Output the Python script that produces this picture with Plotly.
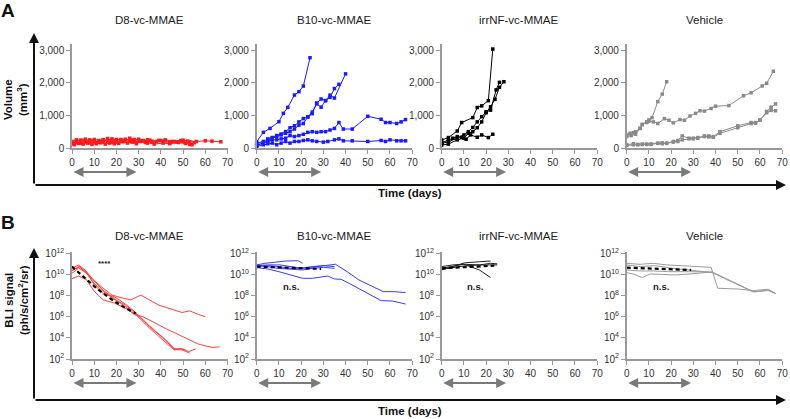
import plotly.graph_objects as go

W, H = 790, 419
FONT = "Liberation Sans, Arial, sans-serif"

groups = ["D8-vc-MMAE", "B10-vc-MMAE", "irrNF-vc-MMAE", "Vehicle"]
colors_a = ["#ff1a1a", "#1a1aff", "#000000", "#8a8a8a"]
colors_b = ["#ff4040", "#3a3aff", "#222222", "#9a9a9a"]
treatment_days = [0, 29]

# ---------------- Panel A: tumour volume (mm^3) ----------------
vol_d8 = [
    ([0,2,4,6,8,10,12,14,16,18,20,22,24,26,28,30,32,35,38,42,45,49,52,56,60,63,67],
     [130,210,240,200,250,190,220,240,210,200,260,240,230,210,260,230,220,240,200,220,200,230,210,200,220,210,190]),
    ([0,2,4,6,8,10,12,14,16,18,20,22,24,26,28,30,33,36,40,44,47,50,53,55],
     [160,180,150,220,160,200,170,180,290,230,180,200,270,250,190,210,170,200,230,160,180,200,110,160]),
    ([1,3,5,7,9,11,13,15,17,19,21,23,25,27,29,31,34,37,41,44,48,51,54],
     [100,140,120,150,110,130,160,120,150,130,140,190,150,180,130,200,150,120,150,130,170,140,100]),
    ([0,2,4,6,8,10,12,14,16,18,20,22,24,26,28,30,32,34,36,39,42,46,50,53],
     [200,250,230,270,220,260,230,250,220,280,240,260,220,300,250,270,230,250,200,230,250,200,240,190]),
]
vol_b10 = [
    ([0,3,6,10,12,14,17,19,21,24],
     [194,480,600,806,1061,1244,1622,1724,1897,2764]),
    ([0,3,5,7,9,11,13,15,17,19,21,23,25,27,29,31,33,35,37],
     [150,200,280,320,380,430,500,620,680,800,900,950,1100,1350,1250,1450,1550,1820,1950]),
    ([0,3,5,7,9,11,13,15,17,19,21,23,25,27,29,31,33,35,40],
     [100,150,220,300,350,400,450,500,580,700,750,950,1050,1380,1500,1450,1620,1530,2270]),
    ([0,3,5,7,9,11,13,15,17,19,21,23,25,27,29,31,33,35,37,39,43,50,56,58,60,63,65,67],
     [80,150,200,250,250,280,300,380,350,380,420,480,500,480,500,500,550,600,780,580,580,970,880,780,780,750,800,870]),
    ([0,3,5,7,9,11,13,15,17,19,21,23,25,27,30,32,35,37,39,43,50,56,58,60,63,65,67],
     [50,100,130,150,100,150,200,150,200,200,230,250,220,200,180,200,250,280,220,220,200,230,200,250,220,220,220]),
]
vol_irr = [
    ([0,3,7,9,14,16,18,21,23],
     [245,320,520,780,930,1240,1290,1450,3030]),
    ([0,3,7,10,12,14,16,18,20,22,24.5,26],
     [140,190,300,400,500,630,800,960,1110,1160,1780,2010]),
    ([0,3,7,10,12,14,16,18,20,22,24,26,28],
     [90,120,250,300,450,500,620,800,1080,1260,1490,1860,2030]),
    ([0,3,5,7,9,11,13,16,18,21,23],
     [160,240,300,350,330,270,400,330,400,320,420]),
]
vol_veh = [
    ([0,1.5,3,4,6,7,9,10,11.4,14,16,18],
     [400,450,470,500,600,720,800,860,930,1420,1650,2030]),
    ([0,2,4,6,7,9,10,12,14,17,19,21,24,26,28.5,31,33,35,38,40,46,52.6,56,61,63,66],
     [350,380,420,600,720,780,820,800,750,900,850,770,870,850,980,1060,1140,1130,1210,1280,1300,1600,1690,1900,1980,2350]),
    ([0,3,5,7,9,11,14,16,18,21,23,25,28,30,32,35,37,39,42,50,56,58,60,63,65,67],
     [100,130,110,120,120,120,150,160,150,200,230,370,300,300,320,370,370,350,500,680,780,780,850,1120,1250,1350]),
    ([0,3,5,7,9,11,14,16,18,21,23,25,28,30,32,35,37,39,42,50,56,58,60,63,65,67],
     [80,100,100,110,110,110,140,130,140,180,200,250,280,280,300,350,340,330,450,620,750,760,860,1080,1150,1140]),
]
volumes = [vol_d8, vol_b10, vol_irr, vol_veh]
vol_ticks = [0, 1000, 2000, 3000]
vol_ticktext = ["0", "1,000", "2,000", "3,000"]

# ---------------- Panel B: BLI signal (log10 ph/s/cm2/sr) ----------------
bli_d8 = [
    ([0,3,6,9.5,14,18,23,26.5,31,39,49.5,53,57,60],
     [10.6,10.9,10.4,9.5,8.7,8.05,7.75,7.6,8.05,7.1,6.4,6.55,6.2,6.0]),
    ([0,3,6,9.5,14,19,24,28,32,42,57,63,66.5],
     [10.1,10.6,10.2,9.5,8.5,7.75,6.95,6.2,6.0,4.9,3.4,3.1,3.15]),
    ([0,3,6.5,10,14,19,24,28.7,35,42,46,49,52.5,55.7],
     [9.6,9.85,9.5,8.4,7.6,7.3,6.8,6.2,4.9,3.65,2.85,3.0,2.7,2.95]),
    ([0,3,6,10,14,19,24,28.7,35,42,46,49.7,53],
     [10.4,10.75,10.25,9.15,8.4,7.65,7.1,6.3,5.05,3.8,2.9,2.85,2.55]),
    ([0,3.5,7,10,14,19,24,28.7,35,42,46,51],
     [10.35,10.74,10.1,9.0,8.2,7.9,7.2,6.4,5.1,3.85,3.0,2.9]),
]
bli_d8_mean = ([0,5,11,17,23,28.7], [10.74,9.8,8.7,7.75,6.95,6.3])
bli_b10 = [
    ([0,3.7,8,13,18.5,20.7], [10.9,11.05,11.15,11.27,11.3,11.05]),
    ([0,5,10.4,14.8,20,25,30,35], [10.83,10.9,10.9,10.74,10.6,10.74,10.83,10.74]),
    ([0,5,10,15.5,20.7,25,30,35.5,40.7,46,57,62,67],
     [10.74,10.83,10.74,10.58,10.58,10.67,10.8,10.96,10.26,9.48,8.37,8.37,8.28]),
    ([0,5,10,15.5,20.7,25,28,32,35,38,43,56,61,67],
     [10.64,10.52,10.26,9.95,9.63,9.63,9.73,9.85,9.57,9.54,9.0,7.52,7.49,7.2]),
    ([0,5,9.6,15.5,20.7,25,30,35], [10.9,10.74,10.58,10.49,10.42,10.58,10.67,10.58]),
]
bli_b10_mean = ([0,10,20,29], [10.74,10.68,10.6,10.52])
bli_irr = [
    ([0,5,10.4,17,22], [10.42,10.74,11.1,11.2,11.27]),
    ([0,5,10,17,22,25], [10.58,10.8,10.96,10.9,11.05,11.0]),
    ([0,5,10,17,22], [10.74,10.9,10.96,10.42,9.7]),
    ([0,5,10,17,23,25], [10.49,10.64,10.8,10.9,10.9,10.9]),
]
bli_irr_mean = ([0,8,16,23.7], [10.58,10.68,10.77,10.83])
bli_veh = [
    ([0,6,12,18,27,32.6,38,41,50,57,63.7,67],
     [11.05,10.96,11.05,10.9,10.8,10.74,10.67,8.69,8.62,8.47,8.6,8.2]),
    ([0,6,13,20.7,28,38.5,47,57,63.7,67],
     [10.9,10.74,10.83,10.58,10.42,10.17,9.32,8.34,8.47,8.2]),
    ([0,3.7,7,10.4,16,22,28,34,38.5,47,57,63.7,67],
     [10.17,10.0,9.7,10.04,10.0,9.95,10.04,10.17,10.23,9.38,8.37,8.53,8.2]),
    ([0,6,12,19,28,38.5], [10.42,10.33,10.33,10.26,10.26,10.23]),
]
bli_veh_mean = ([0,10,20,29], [10.64,10.58,10.5,10.42])
bli = [bli_d8, bli_b10, bli_irr, bli_veh]
bli_means = [bli_d8_mean, bli_b10_mean, bli_irr_mean, bli_veh_mean]
bli_exponents = [2, 4, 6, 8, 10, 12]
stats_labels = ["****", "n.s.", "n.s.", "n.s."]
stats_pos = [(14.7, 11.05), (15.3, 8.85), (14.8, 8.9), (15.6, 8.9)]

# ---------------- layout geometry (pixels) ----------------
x_left = [72, 256.7, 441.7, 626.7]
x_len = 155.5
rowA = (148, 43.5)     # bottom, top pixel
rowB = (359, 251.7)

def px(x):
    return x / W

def py(y):
    return 1 - y / H

fig = go.Figure()
layout = dict(
    width=W, height=H, margin=dict(l=0, r=0, t=0, b=0, pad=0), autosize=False,
    paper_bgcolor="white", plot_bgcolor="white", showlegend=False,
    font=dict(family=FONT, size=10, color="#333"),
)

def axis_common():
    return dict(showline=True, linecolor="#999", linewidth=1.5, ticks="outside",
                ticklen=4, tickwidth=1.2, tickcolor="#999", showgrid=False,
                zeroline=False, tickfont=dict(family=FONT, size=10, color="#333"),
                fixedrange=True, automargin=False)

def label(text, x, y, size=11.5, color="#111", angle=0, xref="paper", yref="paper"):
    return dict(text=text, x=x, y=y, xref=xref, yref=yref, showarrow=False,
                xanchor="center", yanchor="middle", textangle=angle,
                font=dict(size=size, color=color, family=FONT))

annotations = []
for i in range(4):
    # Panel A
    n = i + 1
    xa = f"x{n}" if n > 1 else "x"
    ya = f"y{n}" if n > 1 else "y"
    for days, vals in volumes[i]:
        fig.add_trace(go.Scatter(x=days, y=vals, mode="lines+markers", xaxis=xa, yaxis=ya,
                                 line=dict(color=colors_a[i], width=1),
                                 marker=dict(symbol="square", size=3.5, color=colors_a[i]),
                                 cliponaxis=False))
    xd = [px(x_left[i]), px(x_left[i] + x_len)]
    layout[f"xaxis{n}" if n > 1 else "xaxis"] = dict(
        axis_common(), domain=xd, anchor=ya, range=[0, 70], tickvals=list(range(0, 80, 10)))
    layout[f"yaxis{n}" if n > 1 else "yaxis"] = dict(
        axis_common(), domain=[py(rowA[0]), py(rowA[1])], anchor=xa, range=[0, 3200],
        tickvals=vol_ticks, ticktext=vol_ticktext)

    # Panel B
    m = i + 5
    xb, yb = f"x{m}", f"y{m}"
    for days, vals in bli[i]:
        fig.add_trace(go.Scatter(x=days, y=[10 ** v for v in vals], mode="lines", xaxis=xb, yaxis=yb,
                                 line=dict(color=colors_b[i], width=1), cliponaxis=False))
    md, mv = bli_means[i]
    fig.add_trace(go.Scatter(x=md, y=[10 ** v for v in mv], mode="lines", xaxis=xb, yaxis=yb,
                             line=dict(color="black", width=2.2, dash="4px,3px"), cliponaxis=False))
    layout[f"xaxis{m}"] = dict(axis_common(), domain=xd, anchor=yb, range=[0, 70],
                               tickvals=list(range(0, 80, 10)))
    layout[f"yaxis{m}"] = dict(axis_common(), type="log", domain=[py(rowB[0]), py(rowB[1])],
                               anchor=xb, range=[2, 12.15],
                               tickvals=[10 ** e for e in bli_exponents],
                               ticktext=[f"10<sup>{e}</sup>" for e in bli_exponents])

    # group titles
    cx = px(x_left[i] + x_len / 2)
    for ty in (20, 236):
        annotations.append(label(groups[i], cx, py(ty), size=11.5, color="#222"))
    # statistics labels
    sx, sy = stats_pos[i]
    annotations.append(label(f"<b>{stats_labels[i]}</b>", sx, sy, size=9.5 if i else 8,
                             color="#222", xref=xb, yref=yb))
    # treatment arrows
    for xr, ay_px in ((xa, 172), (xb, 383)):
        annotations.append(dict(x=treatment_days[1], y=py(ay_px), xref=xr, yref="paper",
                                ax=treatment_days[0], ay=0, axref=xr, ayref="pixel",
                                showarrow=True, arrowhead=2, arrowside="end+start",
                                arrowsize=1, arrowwidth=2, arrowcolor="#7a7a7a", text=""))

# big L-shaped axes with arrows
for top, bottom in ((33, 185), (248, 400)):
    annotations.append(dict(x=px(34), y=py(top), xref="paper", yref="paper", ax=0, ay=bottom - top,
                            showarrow=True, arrowhead=2, arrowsize=1, arrowwidth=2,
                            arrowcolor="#111", text=""))
    annotations.append(dict(x=px(786), y=py(bottom), xref="paper", yref="paper", ax=-(786 - 34), ay=0,
                            showarrow=True, arrowhead=2, arrowsize=1, arrowwidth=2,
                            arrowcolor="#111", text=""))

annotations += [
    label("<b>Time (days)</b>", px(410), py(193)),
    label("<b>Time (days)</b>", px(410), py(411)),
    label("<b>Volume<br>(mm<sup>3</sup>)</b>", px(16), py(100), angle=-90),
    label("<b>BLI signal<br>(ph/s/cm<sup>2</sup>/sr)</b>", px(16), py(300), angle=-90),
    label("<b>A</b>", px(8), py(11), size=19),
    label("<b>B</b>", px(8), py(222), size=19),
]
layout["annotations"] = annotations
fig.update_layout(**layout)
fig.write_html("out.html", config={"displayModeBar": False},
               post_script="document.body.style.margin='0';document.body.style.overflow='hidden';")
